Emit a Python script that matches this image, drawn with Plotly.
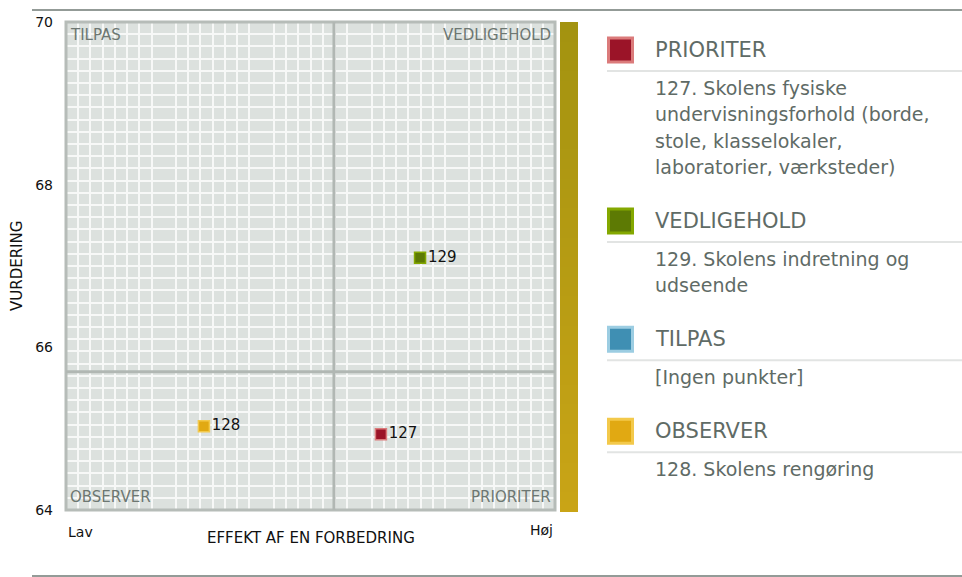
import plotly.graph_objects as go

# ---------------- data ----------------
point_ids = ["127", "128", "129"]
effekt = [64.4, 28.2, 72.4]          # 0 (Lav) .. 100 (Høj)
vurdering = [64.93, 65.03, 67.10]
point_cat = ["PRIORITER", "OBSERVER", "VEDLIGEHOLD"]

x_split = 54.8
y_split = 65.7
y_ticks = [64, 66, 68, 70]

legend_cats = ["PRIORITER", "VEDLIGEHOLD", "TILPAS", "OBSERVER"]
legend_desc = [
    ["127. Skolens fysiske", "undervisningsforhold (borde,", "stole, klasselokaler,",
     "laboratorier, værksteder)"],
    ["129. Skolens indretning og", "udseende"],
    ["[Ingen punkter]"],
    ["128. Skolens rengøring"],
]

fill_col = {"PRIORITER": "#9b1428", "VEDLIGEHOLD": "#5d7a04", "TILPAS": "#3f8fb3", "OBSERVER": "#e1a912"}
edge_col = {"PRIORITER": "#db7b7b", "VEDLIGEHOLD": "#84a800", "TILPAS": "#9ccde2", "OBSERVER": "#f3c94b"}

# ---------------- layout geometry ----------------
W, H = 962, 577
PL, PR, PT, PB = 66, 555, 22, 510
FONT = "DejaVu Sans"
def px(x): return x / W
def py(y): return 1 - y / H

fig = go.Figure()

# gradient bar
n = 50
fig.add_trace(go.Heatmap(
    z=[[i] for i in range(n)], x=[0], y=list(range(n)),
    colorscale=[[0, "#c9a416"], [1, "#a39310"]], showscale=False,
    xaxis="x2", yaxis="y2", hoverinfo="skip"))

fig.add_trace(go.Scatter(
    x=effekt, y=vurdering, mode="markers+text",
    text=point_ids, textposition="middle right",
    textfont=dict(family=FONT, size=15, color="#111"),
    marker=dict(symbol="square", size=11,
                color=[fill_col[c] for c in point_cat],
                line=dict(color=[edge_col[c] for c in point_cat], width=1.5)),
    hoverinfo="skip", showlegend=False, cliponaxis=False))

shapes = []
shapes.append(dict(type="rect", xref="x domain", yref="y domain", x0=0, x1=1, y0=0, y1=1,
                   line=dict(color="#b6bcb8", width=3), layer="above"))
shapes.append(dict(type="line", xref="x", yref="y domain", x0=x_split, x1=x_split, y0=0, y1=1,
                   line=dict(color="#b1b7b3", width=3)))
shapes.append(dict(type="line", xref="x domain", yref="y", x0=0, x1=1, y0=y_split, y1=y_split,
                   line=dict(color="#b1b7b3", width=3)))
shapes.append(dict(type="line", xref="paper", yref="paper", x0=px(32), x1=1, y0=py(10), y1=py(10),
                   line=dict(color="#6f7a75", width=1.5)))
shapes.append(dict(type="line", xref="paper", yref="paper", x0=px(32), x1=1, y0=py(576), y1=py(576),
                   line=dict(color="#6f7a75", width=1.5)))

annotations = []
qfont = dict(family=FONT, size=15, color="#6d7772")
for txt, xd, yd, xa, ya, xs, ys in [
    ("TILPAS", 0, 1, "left", "top", 2, -2),
    ("VEDLIGEHOLD", 1, 1, "right", "top", -2, -2),
    ("OBSERVER", 0, 0, "left", "bottom", 2, 2),
    ("PRIORITER", 1, 0, "right", "bottom", -2, 2),
]:
    annotations.append(dict(text=txt, xref="x domain", yref="y domain", x=xd, y=yd,
                            xanchor=xa, yanchor=ya, xshift=xs, yshift=ys,
                            showarrow=False, font=qfont))

tfont = dict(family=FONT, size=14, color="#111")
ttl_font = dict(family=FONT, size=15, color="#111")
annotations.append(dict(text="Lav", xref="x domain", yref="paper", x=0, y=py(532),
                        xanchor="left", yanchor="middle", showarrow=False, font=tfont))
annotations.append(dict(text="Høj", xref="x domain", yref="paper", x=1, y=py(530),
                        xanchor="right", yanchor="middle", showarrow=False, font=tfont))
annotations.append(dict(text="EFFEKT AF EN FORBEDRING", xref="x domain", yref="paper", x=0.5,
                        y=py(538), xanchor="center", yanchor="middle", showarrow=False, font=ttl_font))
annotations.append(dict(text="VURDERING", xref="paper", yref="y domain", x=px(17), y=0.5,
                        textangle=-90, xanchor="center", yanchor="middle", showarrow=False, font=ttl_font))

# custom legend
hfont = dict(family=FONT, size=21, color="#5f6b66")
dfont = dict(family=FONT, size=19, color="#5f6b66")
y = 50
for cat, lines in zip(legend_cats, legend_desc):
    shapes.append(dict(type="rect", xref="paper", yref="paper",
                       x0=px(608.5), x1=px(632.5), y0=py(y - 12), y1=py(y + 12),
                       fillcolor=fill_col[cat], line=dict(color=edge_col[cat], width=3)))
    annotations.append(dict(text=cat, xref="paper", yref="paper", x=px(653), y=py(y),
                            xanchor="left", yanchor="middle", showarrow=False, font=hfont))
    shapes.append(dict(type="line", xref="paper", yref="paper", x0=px(607), x1=1,
                       y0=py(y + 21), y1=py(y + 21), line=dict(color="#e2e4e3", width=2)))
    ly = y + 38
    for ln in lines:
        annotations.append(dict(text=ln, xref="paper", yref="paper", x=px(653), y=py(ly),
                                xanchor="left", yanchor="middle", showarrow=False, font=dfont))
        ly += 26.3
    y = ly - 26.3 + 54

fig.update_layout(
    width=W, height=H, margin=dict(l=0, r=0, t=0, b=0, pad=0, autoexpand=False),
    paper_bgcolor="white", plot_bgcolor="#dce1de",
    showlegend=False, shapes=shapes, annotations=annotations,
    xaxis=dict(domain=[px(PL), px(PR)], range=[0, 100], showticklabels=False, showgrid=False,
               zeroline=False, showline=False, ticks="", automargin=False,
               minor=dict(showgrid=True, tick0=0, dtick=2.5, gridcolor="#f7f8f7", gridwidth=2)),
    yaxis=dict(domain=[py(PB), py(PT)], range=[64, 70], tickvals=y_ticks, showgrid=False,
               zeroline=False, showline=False, ticks="", ticklabelstandoff=12, automargin=False,
               tickfont=dict(family=FONT, size=14, color="#111"),
               minor=dict(showgrid=True, tick0=64, dtick=0.15, gridcolor="#f7f8f7", gridwidth=2)),
    xaxis2=dict(domain=[px(560), px(578)], visible=False, anchor="y2", automargin=False),
    yaxis2=dict(domain=[py(PB + 2), py(PT)], visible=False, anchor="x2", automargin=False),
)

fig.write_html("out.html", config={"responsive": False, "displayModeBar": False},
               post_script="document.body.style.margin='0';document.body.style.overflow='hidden';")
